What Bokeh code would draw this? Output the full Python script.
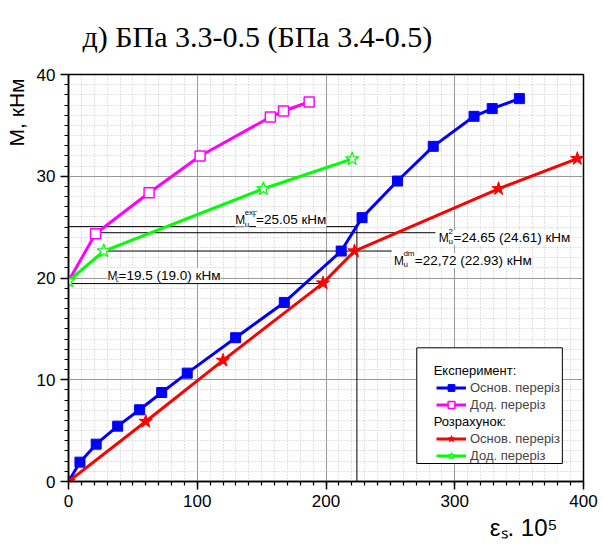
import numpy as np
from bokeh.plotting import figure
from bokeh.models import (Label, Legend, LegendItem, BoxAnnotation, Range1d,
                          SingleIntervalTicker, Title)
from bokeh.embed import file_html
from bokeh.resources import INLINE

# ---------------- data ----------------
exp_main_x = [0, 8.9, 21.5, 38.2, 55.2, 72.4, 92.2, 129.8, 167.6, 211.8, 228.0, 255.5, 283.3, 315.0, 329.1, 350.2]
exp_main_y = [0, 1.9, 3.67, 5.44, 7.05, 8.75, 10.65, 14.13, 17.6, 22.65, 25.93, 29.53, 32.94, 35.89, 36.65, 37.63]
exp_add_x = [0, 21.0, 62.6, 102.2, 156.8, 167.0, 186.9]
exp_add_y = [19.7, 24.35, 28.38, 31.99, 35.82, 36.41, 37.3]
calc_main_x = [0, 60.0, 120.0, 197.7, 222.1, 334.0, 395.2]
calc_main_y = [0, 5.9, 11.9, 19.5, 22.65, 28.77, 31.73]
calc_add_x = [0, 27.4, 151.4, 220.3]
calc_add_y = [19.7, 22.65, 28.77, 31.7]

# guide lines for the characteristic moments
guide_h_y = [25.05, 24.45, 22.65, 19.45]
guide_h_x0 = [0, 21.0, 27.4, 0]
guide_h_x1 = [224.0, 285.0, 251.0, 197.7]
guide_v_x = [224.0]
guide_v_y0 = [0]
guide_v_y1 = [25.05]

title_text = "д) БПа 3.3-0.5 (БПа 3.4-0.5)"
ylabel_text = "M, кНм"
xlabel_text = "εₛ. 10⁵"
x_ticks_step = 100
y_ticks_step = 10

# ---------------- layout ----------------
W, H = 603, 544
BL, BR, BT, BB = 64, 20, 74, 63
FW, FH = W - BL - BR, H - BT - BB
X0, X1, Y0, Y1 = 0, 400, 0, 40


def wx(px):
    return X0 + (px - BL) / FW * (X1 - X0)


def wy(py):
    return Y0 + (H - BB - py) / FH * (Y1 - Y0)


p = figure(width=W, height=H, output_backend="svg", toolbar_location=None,
           x_range=Range1d(X0, X1), y_range=Range1d(Y0, Y1),
           min_border_left=BL, min_border_right=BR, min_border_top=BT,
           min_border_bottom=BB, title=title_text)
p.title.text_font = "Liberation Serif"
p.title.text_font_size = "30px"
p.title.text_font_style = "normal"
p.title.text_color = "black"
p.title.align = "left"
p.title.offset = 14
p.title.vertical_align = "top"
p.title.standoff = 39

p.add_layout(Title(text=ylabel_text, align="right", offset=4,
                   vertical_align="top", standoff=8,
                   text_font="Liberation Sans", text_font_size="21px",
                   text_font_style="normal", text_color="black"), "left")
p.add_layout(Title(text=xlabel_text, align="right", offset=26,
                   vertical_align="bottom", standoff=4,
                   text_font="Liberation Sans", text_font_size="24px",
                   text_font_style="normal", text_color="black"), "below")

p.background_fill_color = "white"
p.border_fill_color = "white"
p.outline_line_color = "black"
p.outline_line_width = 1.5

for ax, step in ((p.xaxis, x_ticks_step), (p.yaxis, y_ticks_step)):
    ax.ticker = SingleIntervalTicker(interval=step, num_minor_ticks=10)
    ax.axis_line_color = "black"
    ax.axis_line_width = 1.5
    ax.major_tick_line_color = "black"
    ax.major_tick_line_width = 1.5
    ax.minor_tick_line_color = "black"
    ax.minor_tick_line_width = 1.2
    ax.major_tick_in = 0
    ax.major_tick_out = 8
    ax.minor_tick_in = 0
    ax.minor_tick_out = 4
    ax.major_label_text_font = "Liberation Sans"
    ax.major_label_text_font_size = "17px"
    ax.major_label_text_color = "black"
    ax.major_label_standoff = 5

for g in (p.xgrid, p.ygrid):
    g.grid_line_color = "#9a9a9a"
    g.grid_line_width = 1
    g.minor_grid_line_color = "#c4c4c4"
    g.minor_grid_line_dash = "1 2"
    g.minor_grid_line_width = 1

# guide lines
p.segment(x0=guide_h_x0, y0=guide_h_y, x1=guide_h_x1, y1=guide_h_y,
          line_color="black", line_width=1)
p.segment(x0=guide_v_x, y0=guide_v_y0, x1=guide_v_x, y1=guide_v_y1,
          line_color="black", line_width=1)

# series
blue_line = p.line(exp_main_x, exp_main_y, line_color="#0000ff", line_width=3)
blue_pts = p.scatter(exp_main_x[1:], exp_main_y[1:], marker="square", size=10,
                     fill_color="#0000ff", line_color="#0000ff")
pink_line = p.line(exp_add_x, exp_add_y, line_color="#ff00ff", line_width=3)
pink_pts = p.scatter(exp_add_x[1:], exp_add_y[1:], marker="square", size=10,
                     fill_color="white", line_color="#ff00ff", line_width=1.5)
green_line = p.line(calc_add_x, calc_add_y, line_color="#00ff00", line_width=3)
green_pts = p.scatter(calc_add_x, calc_add_y, marker="star", size=14,
                      fill_color="white", line_color="#00ff00", line_width=1.2)
red_line = p.line(calc_main_x, calc_main_y, line_color="#ff0000", line_width=3)
red_pts = p.scatter(calc_main_x, calc_main_y, marker="star", size=14,
                    fill_color="#ff0000", line_color="#ff0000")
dummy = p.scatter(x=[], y=[], marker="square", alpha=0)


def txt(s, px, py, size, font="Liberation Sans", align="left",
        baseline="alphabetic", bg=None):
    lab = Label(x=wx(px), y=wy(py), text=s, text_font=font,
                text_font_size=f"{size}px", text_align=align,
                text_baseline=baseline, text_color="black")
    if bg:
        lab.background_fill_color = bg
    p.add_layout(lab)


# annotations of moments
txt("M", 232, 219, 12, bg="white")
txt("exp", 241.5, 212, 8, bg="white")
txt("u", 241.5, 224, 8, bg="white")
txt("=25.05 кНм", 253, 219, 13.5, bg="white")

txt("M", 437, 237, 12, bg="white")
txt("2", 447, 230.5, 8, bg="white")
txt("u", 447, 241, 8, bg="white")
txt("=24.65 (24.61) кНм", 452, 237, 13.5, bg="white")

txt("M", 392, 260, 12, bg="white")
txt("dm", 401.5, 253, 8, bg="white")
txt("u", 401.5, 264, 8, bg="white")
txt("=22,72 (22.93) кНм", 413, 260, 13.5, bg="white")

txt("M", 103.3, 275, 12, bg="white")
txt("0", 111.5, 278.5, 8, bg="white")
txt("=19.5 (19.0) кНм", 114.5, 275, 13.5, bg="white")

# legend box
box = BoxAnnotation(left=wx(415), right=wx(561.7), top=wy(347.3), bottom=wy(463),
                    fill_color="white", fill_alpha=1, line_color="black",
                    line_width=1, line_alpha=1)
p.add_layout(box)

items = [
    LegendItem(label=" ", renderers=[dummy]),
    LegendItem(label="Основ. переріз", renderers=[blue_line, blue_pts]),
    LegendItem(label="Дод. переріз", renderers=[pink_line, pink_pts]),
    LegendItem(label=" ", renderers=[dummy]),
    LegendItem(label="Основ. переріз", renderers=[red_line, red_pts]),
    LegendItem(label="Дод. переріз", renderers=[green_line, green_pts]),
]
legend = Legend(items=items, location=(368, 17.5), padding=0, margin=0,
                spacing=0, glyph_width=30, glyph_height=17, label_height=17,
                label_standoff=4, label_text_font="Liberation Sans",
                label_text_font_size="13px", background_fill_alpha=0,
                border_line_alpha=0)
p.add_layout(legend)

txt("Експеримент:", 432, 370, 13, baseline="middle")
txt("Розрахунок:", 432, 421, 13, baseline="middle")

open("out.html", "w").write(file_html(p, INLINE))
